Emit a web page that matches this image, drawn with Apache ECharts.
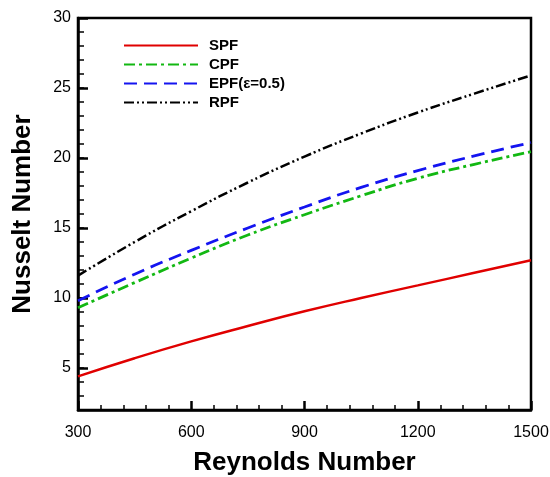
<!DOCTYPE html>
<html>
<head>
<meta charset="utf-8">
<script src="https://cdn.jsdelivr.net/npm/echarts@6/dist/echarts.min.js"></script>
<style>
  html, body { margin: 0; padding: 0; background: #fff; }
  #main { width: 550px; height: 477px; }
</style>
</head>
<body>
<div id="main"></div>
<script>
// Reynolds numbers where the curves were read
var reynolds = [300, 450, 600, 750, 900, 1050, 1200, 1350, 1500];

// Nusselt number for each flow type
var spf = [4.4, 5.7, 6.9, 8.0, 9.05, 10.0, 10.9, 11.8, 12.7];
var cpf = [9.3, 11.1, 12.85, 14.5, 15.95, 17.3, 18.55, 19.55, 20.45];
var epf = [9.8, 11.7, 13.4, 15.0, 16.5, 17.9, 19.1, 20.15, 21.1];
var rpf = [11.6, 14.0, 16.2, 18.25, 20.1, 21.75, 23.25, 24.6, 25.9];

var yLabels = [5, 10, 15, 20, 25, 30];
var xLabels = [300, 600, 900, 1200, 1500];

function pairs(ys) {
  return reynolds.map(function (x, i) { return [x, ys[i]]; });
}

var chart = echarts.init(document.getElementById('main'));
var font = 'Liberation Sans, Arial, Helvetica, sans-serif';

var option = {
  backgroundColor: '#fff',
  animation: false,
  grid: {
    left: 78, right: 19, top: 18, bottom: 67,
    outerBoundsMode: 'none',
    show: true, borderColor: '#000', borderWidth: 2.5
  },
  legend: {
    orient: 'vertical',
    left: 118,
    top: 33,
    itemWidth: 74,
    itemHeight: 14,
    itemGap: 4,
    itemStyle: { opacity: 0 },
    textStyle: { fontFamily: font, fontWeight: 'bold', fontSize: 15, color: '#000', padding: [0, 0, 0, 6] },
    data: ['SPF', 'CPF', 'EPF(ε=0.5)', 'RPF']
  },
  xAxis: {
    type: 'value',
    min: 300, max: 1500, interval: 300,
    name: 'Reynolds Number',
    nameLocation: 'middle',
    nameGap: 40,
    nameTextStyle: { fontFamily: font, fontWeight: 'bold', fontSize: 26, color: '#000' },
    axisLine: { show: true, lineStyle: { color: '#000', width: 2.5 } },
    axisTick: { show: true, inside: true, length: 9, lineStyle: { color: '#000', width: 2.5 } },
    minorTick: { show: true, splitNumber: 5, length: 5, lineStyle: { color: '#000', width: 1.5 } },
    axisLabel: {
      fontFamily: font, fontSize: 16, color: '#000', margin: 15,
      customValues: xLabels,
      formatter: function (v) { return String(v); }
    },
    splitLine: { show: false }
  },
  yAxis: [
    {
      type: 'value',
      min: 2, max: 30, interval: 1,
      position: 'left',
      name: 'Nusselt Number',
      nameLocation: 'middle',
      nameGap: 42,
      nameTextStyle: { fontFamily: font, fontWeight: 'bold', fontSize: 26, color: '#000' },
      axisLine: { show: true, lineStyle: { color: '#000', width: 2.5 } },
      axisTick: {
        show: true, inside: true, length: 10,
        customValues: yLabels,
        lineStyle: { color: '#000', width: 2.5 }
      },
      axisLabel: {
        fontFamily: font, fontSize: 16, color: '#000', margin: 7,
        customValues: yLabels
      },
      splitLine: { show: false }
    },
    {
      type: 'value',
      min: 2, max: 30, interval: 1,
      position: 'left',
      offset: 0,
      axisLine: { show: false },
      axisTick: { show: true, inside: true, length: 6, lineStyle: { color: '#000', width: 1.5 } },
      axisLabel: { show: false },
      splitLine: { show: false }
    }
  ],
  series: [
    {
      name: 'SPF', type: 'line', smooth: true, symbol: 'none',
      lineStyle: { color: '#e00000', width: 2.5, type: 'solid' },
      itemStyle: { color: '#e00000' },
      data: pairs(spf)
    },
    {
      name: 'CPF', type: 'line', smooth: true, symbol: 'none',
      lineStyle: { color: '#12b812', width: 2.8, type: [11, 4, 3, 4] },
      itemStyle: { color: '#12b812' },
      data: pairs(cpf)
    },
    {
      name: 'EPF(ε=0.5)', type: 'line', smooth: true, symbol: 'none',
      lineStyle: { color: '#1414f0', width: 2.8, type: [13, 7] },
      itemStyle: { color: '#1414f0' },
      data: pairs(epf)
    },
    {
      name: 'RPF', type: 'line', smooth: true, symbol: 'none',
      lineStyle: { color: '#000', width: 2.5, type: [10, 3, 2, 3, 2, 3] },
      itemStyle: { color: '#000' },
      data: pairs(rpf)
    }
  ]
};

chart.setOption(option);
</script>
</body>
</html>
